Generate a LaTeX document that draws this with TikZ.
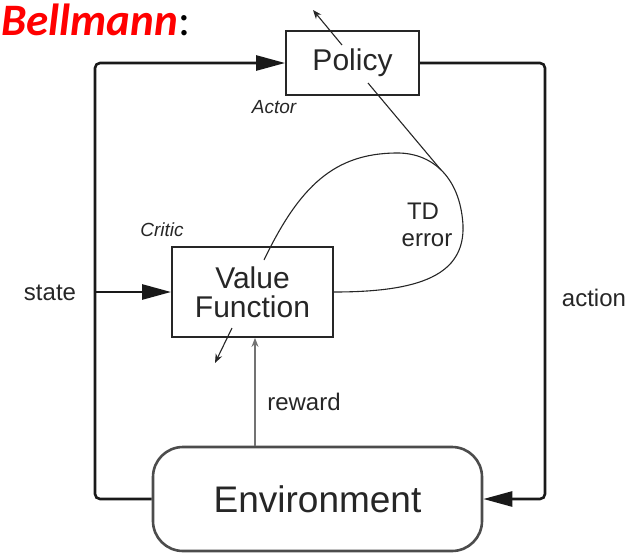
\documentclass[tikz,border=0pt]{standalone}
\usepackage{fontspec}
\setmainfont{Liberation Sans}
\newfontfamily\titlefont{Carlito}
\usetikzlibrary{arrows.meta}
\begin{document}
\begin{tikzpicture}[x=1pt,y=-1pt,
  box/.style={draw=black!85, line width=1.8pt, rectangle, inner sep=0pt,
    font=\fontsize{30}{33}\selectfont, text=black!85, align=center},
  envbox/.style={draw=black!70, line width=2.6pt, rounded corners=30pt, inner sep=0pt,
    font=\fontsize{37}{40}\selectfont, text=black!85},
  mainline/.style={draw=black!90, line width=2.6pt, rounded corners=5pt},
  bigtip/.style={-{Triangle[length=29pt,width=15pt]}},
  thinline/.style={draw=black!85, line width=1.1pt},
  smalltip/.style={-{Stealth[length=9pt,width=7pt]}},
  lbl/.style={font=\fontsize{24}{28}\selectfont, text=black!85, align=center},
  role/.style={font=\fontsize{19}{22}\selectfont\itshape, text=black!85}
]
\useasboundingbox (0,0) rectangle (635,552);

% title
\node[anchor=base west, inner sep=0pt] (title) at (1,35)
  {\titlefont\fontsize{45}{46}\selectfont\textcolor{red}{\bfseries\itshape Bellmann}:};

% blocks
\node[box, minimum width=133pt, minimum height=64pt] (policy) at (352.5,63) {Policy};
\node[box, minimum width=161pt, minimum height=90pt] (vf) at (252.5,292) {Value\\[-4pt]Function};
\node[envbox, minimum width=329pt, minimum height=104pt] (env) at (317.5,499) {Environment};

% labels
\node[role] (actor) at (274,107) {Actor};
\node[role] (critic) at (162,230) {Critic};
\node[lbl] (td) at (423,211) {TD};
\node[lbl] (err) at (427,240) {error};
\node[lbl] (state) at (50,293) {state};
\node[lbl] (action) at (594,298) {action};
\node[lbl] (reward) at (304,402) {reward};

% helper points
\coordinate (lx) at (95,0);
\coordinate (rx) at (545,0);
\coordinate (rw) at (255,0);
\coordinate (sj) at (95,292);
\coordinate (pin) at (368,83);
\coordinate (pout) at (342,45);
\coordinate (ptip) at (313,10);
\coordinate (vin) at (232,328);
\coordinate (vtip) at (215,363);
\coordinate (tdmeet) at (441,170);
\coordinate (tdend) at (264,260);

% environment -> state -> policy
\draw[mainline, bigtip] (env.west) -- (env.west -| lx) |- (policy.west);
% state branch into the critic
\draw[mainline, bigtip] (sj) -- (vf.west);
% policy -> action -> environment
\draw[mainline, bigtip] (policy.east) -- (policy.east -| rx) |- (env.east);
% reward
\draw[draw=black!55, line width=1.4pt, -{Stealth[length=9pt,width=7pt]}]
  (env.north -| rw) -- (vf.south -| rw);

% parameter updates
\draw[thinline, smalltip] (pout) -- (ptip);
\draw[thinline, smalltip] (vin) -- (vtip);

% TD error loop
\draw[thinline] (vf.east) .. controls (420,292) and (465,275) .. (463,225)
  .. controls (460,175) and (430,152) .. (395,153)
  .. controls (335,154) and (300,185) .. (tdend);
\draw[thinline] (pin) -- (tdmeet);
\end{tikzpicture}
\end{document}
